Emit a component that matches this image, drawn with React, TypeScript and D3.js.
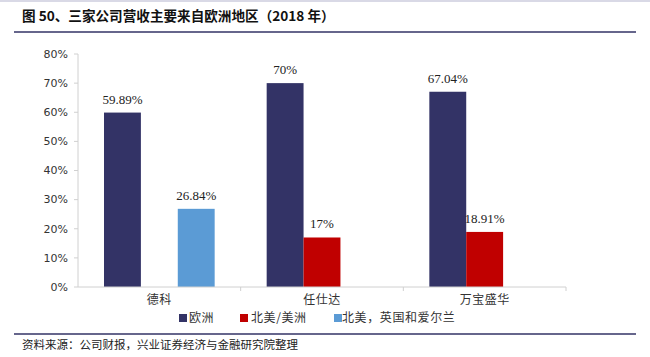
import React from "react";
import * as d3 from "d3";

const categories = ["德科", "任仕达", "万宝盛华"];
const seriesNames = ["欧洲", "北美/美洲", "北美，英国和爱尔兰"];
const seriesColors = ["#333366", "#C00000", "#5B9BD5"];
const europe = [59.89, 70, 67.04];
const americas = [null, 17, 18.91];
const naUkIreland = [26.84, null, null];
const valueLabels = [
  ["59.89%", "70%", "67.04%"],
  [null, "17%", "18.91%"],
  ["26.84%", null, null],
];
const yTicks = [0, 10, 20, 30, 40, 50, 60, 70, 80];

const W = 650;
const H = 357;
const plot = { left: 78, right: 566, top: 54, bottom: 287 };

export default function App() {
  const series = [europe, americas, naUkIreland];
  const x0 = d3
    .scaleBand<string>()
    .domain(categories)
    .range([plot.left, plot.right])
    .paddingInner(0)
    .paddingOuter(0);
  const x1 = d3
    .scaleBand<number>()
    .domain([0, 1, 2])
    .range([26, x0.bandwidth() - 26]);
  const y = d3.scaleLinear().domain([0, 80]).range([plot.bottom, plot.top]);

  const cjk = "'Noto Sans CJK SC', sans-serif";
  const serifNum = "'Liberation Serif', 'Times New Roman', serif";

  return (
    <svg
      width={W}
      height={H}
      style={{ position: "absolute", left: 0, top: 0, background: "#fff" }}
    >
      <rect x={0} y={0} width={W} height={2} fill="#d9d9e6" />
      <text
        x={22}
        y={21}
        fontFamily={cjk}
        fontWeight="bold"
        fontSize={13.6}
        fill="#111"
      >
        图 50、三家公司营收主要来自欧洲地区（2018 年）
      </text>
      <line x1={14} x2={636} y1={32} y2={32} stroke="#333366" strokeWidth={1.6} />

      {/* y axis */}
      <line x1={plot.left} x2={plot.left} y1={plot.top} y2={plot.bottom} stroke="#d0d0d0" />
      {yTicks.map((t) => (
        <g key={t}>
          <line x1={plot.left - 4} x2={plot.left} y1={y(t)} y2={y(t)} stroke="#d0d0d0" />
          <text
            x={plot.left - 10}
            y={y(t)}
            dy="0.35em"
            textAnchor="end"
            fontFamily="'DejaVu Sans', sans-serif"
            fontSize={11}
            fill="#333"
          >
            {t}%
          </text>
        </g>
      ))}

      {/* bars */}
      {series.map((vals, si) =>
        vals.map((v, ci) => {
          if (v == null) return null;
          const bx = (x0(categories[ci]) as number) + (x1(si) as number);
          const bw = x1.bandwidth();
          return (
            <g key={`${si}-${ci}`}>
              <rect
                x={bx}
                y={y(v)}
                width={bw}
                height={y(0) - y(v)}
                fill={seriesColors[si]}
              />
              {valueLabels[si][ci] && (
                <text
                  x={bx + bw / 2}
                  y={y(v) - 9}
                  textAnchor="middle"
                  fontFamily={serifNum}
                  fontSize={13}
                  fill="#222"
                >
                  {valueLabels[si][ci]}
                </text>
              )}
            </g>
          );
        })
      )}

      {/* x axis */}
      <line x1={plot.left} x2={plot.right} y1={plot.bottom} y2={plot.bottom} stroke="#d0d0d0" />
      {categories.map((c) => (
        <line
          key={"t" + c}
          x1={(x0(c) as number) + x0.bandwidth()}
          x2={(x0(c) as number) + x0.bandwidth()}
          y1={plot.bottom}
          y2={plot.bottom + 4}
          stroke="#d0d0d0"
        />
      ))}
      {categories.map((c) => (
        <text
          key={c}
          x={(x0(c) as number) + x0.bandwidth() / 2}
          y={304}
          textAnchor="middle"
          fontFamily={cjk}
          fontSize={12}
          letterSpacing={0.5}
          fill="#333"
        >
          {c}
        </text>
      ))}

      {/* legend */}
      {[
        { mx: 179, tx: 189 },
        { mx: 240, tx: 251 },
        { mx: 334, tx: 342 },
      ].map((p, i) => (
        <g key={"lg" + i}>
          <rect x={p.mx} y={314} width={8} height={8} fill={seriesColors[i]} />
          <text x={p.tx} y={322} fontFamily={cjk} fontSize={12} letterSpacing={0.6} fill="#333">
            {seriesNames[i]}
          </text>
        </g>
      ))}

      <line x1={14} x2={636} y1={334} y2={334} stroke="#333366" strokeWidth={1.4} />
      <text x={22} y={349} fontFamily={cjk} fontSize={11.5} fill="#222">
        资料来源：公司财报，兴业证券经济与金融研究院整理
      </text>
    </svg>
  );
}
